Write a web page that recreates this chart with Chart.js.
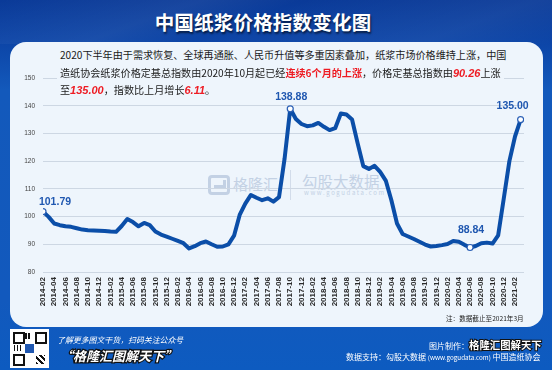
<!DOCTYPE html>
<html><head><meta charset="utf-8">
<script src="https://cdn.jsdelivr.net/npm/chart.js@4.4.1/dist/chart.umd.min.js"></script>
<style>
html,body{margin:0;padding:0;}
body{width:552px;height:370px;overflow:hidden;position:relative;font-family:"Noto Sans CJK SC","Noto Sans",sans-serif;
 background:linear-gradient(180deg,#0a3a98 0px,#0c44a6 40px,#1359bb 90px,#1259bd 300px,#0d5bc0 370px);}
#streak{position:absolute;left:0;top:0;width:552px;height:44px;
 background:linear-gradient(160deg,rgba(255,255,255,0) 0%,rgba(255,255,255,0.06) 30%,rgba(255,255,255,0) 45%,rgba(255,255,255,0.05) 80%,rgba(255,255,255,0) 100%);}
#title{position:absolute;left:0;width:526px;top:9px;text-align:center;color:#fff;font-weight:bold;font-size:19.5px;line-height:26px;letter-spacing:0.2px;text-shadow:1px 2px 2px rgba(0,0,0,0.6);}
#card{position:absolute;left:10px;top:42px;width:533px;height:285px;border-radius:16px;background:#eef5fc;}
#wm{position:absolute;left:0;top:0;width:552px;height:370px;}
.w{position:absolute;color:#c3d1e4;white-space:nowrap;}
#chart{position:absolute;left:0;top:0;}
.p{position:absolute;left:57px;white-space:nowrap;font-size:10.1px;color:#1b1b1b;line-height:16px;padding:0 3px;}
.bg{background:#eef5fc;}
.r{color:#ee1c24;font-weight:bold;}
.ri{color:#ee1c24;font-weight:bold;font-style:italic;font-family:"Liberation Sans","Noto Sans CJK SC",sans-serif;font-size:11px;}
#note{position:absolute;left:446px;top:313px;font-size:6.6px;color:#222;white-space:nowrap;}
#qr{position:absolute;left:10px;top:329px;width:39px;height:39px;background:#fff;}
.f{position:absolute;color:#fff;white-space:nowrap;}
</style></head>
<body>
<div id="streak"></div>
<div id="title">中国纸浆价格指数变化图</div>
<div id="card"></div>
<div id="wm">
  <div class="w" style="left:208px;top:175px;width:22px;height:20px;border:3px solid #c3d1e4;border-radius:4px;box-sizing:border-box;"></div>
  <div class="w" style="left:214px;top:180px;width:12px;height:8px;border:3px solid #c3d1e4;border-left:none;border-top:none;box-sizing:border-box;"></div>
  <div class="w" style="left:233px;top:174px;font-size:15px;line-height:20px;">格隆汇</div>
  <div class="w" style="left:290px;top:170px;width:1px;height:30px;background:#d2dcea;"></div>
  <div class="w" style="left:302px;top:171px;font-size:15.5px;line-height:20px;">勾股大数据</div>
  <div class="w" style="left:304px;top:189px;font-size:6px;letter-spacing:1.6px;line-height:8px;">www.gogudata.com</div>
</div>
<canvas id="chart" width="552" height="370"></canvas>
<div class="p bg" style="top:47px;">2020下半年由于需求恢复、全球再通胀、人民币升值等多重因素叠加，纸浆市场价格维持上涨，中国</div>
<div class="p bg" style="top:65px;">造纸协会纸浆价格定基总指数由2020年10月起已经<span class="r">连续6个月的上涨</span>，价格定基总指数由<span class="ri">90.26</span>上涨</div>
<div class="p" style="top:82px;">至<span class="ri">135.00</span>，指数比上月增长<span class="ri">6.11</span>。</div>
<div id="note">注：数据截止至2021年3月</div>
<div id="qr">
  <div style="position:absolute;left:3px;top:3px;width:8px;height:8px;border:2px solid #111;"></div>
  <div style="position:absolute;left:25px;top:3px;width:8px;height:8px;border:2px solid #111;"></div>
  <div style="position:absolute;left:3px;top:25px;width:8px;height:8px;border:2px solid #111;"></div>
  <div style="position:absolute;left:15px;top:15px;width:9px;height:9px;background:#1f57b0;"></div>
  <div style="position:absolute;left:15px;top:4px;width:6px;height:6px;background:repeating-linear-gradient(90deg,#111 0 2px,#fff 2px 3px);"></div>
  <div style="position:absolute;left:26px;top:26px;width:9px;height:9px;background:repeating-linear-gradient(45deg,#111 0 2px,#fff 2px 4px);"></div>
  <div style="position:absolute;left:4px;top:16px;width:8px;height:6px;background:repeating-linear-gradient(90deg,#111 0 1px,#fff 1px 3px);"></div>
</div>
<div class="f" style="left:57px;top:334px;font-size:7.9px;font-style:italic;">了解更多图文干货，扫码关注公众号</div>
<div class="f" style="left:60px;top:346px;font-size:13px;font-weight:bold;font-style:italic;-webkit-text-stroke:2.5px #111;paint-order:stroke fill;">“格隆汇图解天下”</div>
<div class="f" style="left:429px;top:337px;font-size:8px;">图片制作：<span style="font-size:10.4px;font-weight:bold;-webkit-text-stroke:2px #111;paint-order:stroke fill;">格隆汇图解天下</span></div>
<div class="f" style="left:346px;top:351px;font-size:8px;">数据支持：勾股大数据 <span style="font-size:6.3px;">(www.gogudata.com)</span> 中国造纸协会</div>
<script>
const months = ["2014-02","2014-03","2014-04","2014-05","2014-06","2014-07","2014-08","2014-09","2014-10","2014-11","2014-12",
"2015-01","2015-02","2015-03","2015-04","2015-05","2015-06","2015-07","2015-08","2015-09","2015-10","2015-11","2015-12",
"2016-01","2016-02","2016-03","2016-04","2016-05","2016-06","2016-07","2016-08","2016-09","2016-10","2016-11","2016-12",
"2017-01","2017-02","2017-03","2017-04","2017-05","2017-06","2017-07","2017-08","2017-09","2017-10","2017-11","2017-12",
"2018-01","2018-02","2018-03","2018-04","2018-05","2018-06","2018-07","2018-08","2018-09","2018-10","2018-11","2018-12",
"2019-01","2019-02","2019-03","2019-04","2019-05","2019-06","2019-07","2019-08","2019-09","2019-10","2019-11","2019-12",
"2020-01","2020-02","2020-03","2020-04","2020-05","2020-06","2020-07","2020-08","2020-09","2020-10","2020-11","2020-12",
"2021-01","2021-02","2021-03"];
const pulpIndex = [101.79,99.9,97.5,96.9,96.5,96.3,95.8,95.3,95.1,95.0,94.9,
94.8,94.6,94.5,96.6,99.1,98.0,96.5,97.7,96.9,94.6,93.5,92.8,
92.0,91.2,90.4,88.5,89.3,90.4,91.0,90.0,89.1,89.2,90.0,93.1,
100.6,104.7,107.8,106.8,105.9,106.6,105.4,107.0,121.0,138.88,135.2,133.4,
132.6,132.9,133.8,132.4,131.2,131.9,137.2,136.8,135.0,126.4,118.2,117.2,
118.3,116.1,113.0,105.9,97.5,93.7,92.8,91.9,90.9,89.9,89.2,89.4,
89.7,90.1,91.2,90.9,89.8,88.84,89.4,90.4,90.6,90.26,93.2,106.5,
120.0,128.89,135.00];
const markedIdx = [0,44,76,85];
const markedText = ["101.79","138.88","88.84","135.00"];
const yTicks = [80,90,100,110,120,130,140,150];

const BLUE = '#0b4ea8';
const labelPlugin = {
  id:'pointLabels',
  afterDatasetsDraw(chart){
    const ctx = chart.ctx, meta = chart.getDatasetMeta(0);
    const offs = [[12,-10],[1,-12],[1,-17],[-8,-13]];
    ctx.save();
    ctx.font = 'bold 10.5px "Liberation Sans", sans-serif';
    ctx.fillStyle = '#1f57b0';
    ctx.textAlign = 'center';
    ctx.textBaseline = 'middle';
    markedIdx.forEach((idx,k)=>{
      const el = meta.data[idx];
      ctx.fillText(markedText[k], el.x + offs[k][0], el.y + offs[k][1]);
    });
    ctx.restore();
  }
};

new Chart(document.getElementById('chart'), {
  type:'line',
  data:{datasets:[{
    data: pulpIndex.map((v,i)=>({x:i,y:v})),
    borderColor:BLUE, borderWidth:4, tension:0, fill:false,
    borderJoinStyle:'round', borderCapStyle:'round',
    pointRadius: c => markedIdx.includes(c.dataIndex) ? 3 : 0,
    pointHoverRadius:0,
    pointBackgroundColor:'#ffffff', pointBorderColor:'#2a5fb5', pointBorderWidth:1.2
  }]},
  options:{
    responsive:false, animation:false, devicePixelRatio:1,
    layout:{padding:{left:0,right:28,top:78,bottom:58}},
    plugins:{legend:{display:false},tooltip:{enabled:false}},
    scales:{
      x:{type:'linear', min:0, max:85.6,
        afterBuildTicks: s => { s.ticks = months.map((m,i)=>({value:i})).filter(t=>t.value%2===0); },
        afterFit: s => { s.height = 40; },
        grid:{display:false, drawTicks:false}, border:{display:false},
        ticks:{autoSkip:false, maxRotation:90, minRotation:90, padding:5, color:'#2a2a2a',
          font:{family:'"Liberation Sans", sans-serif', size:8, weight:'bold'},
          callback: v => months[v] }
      },
      y:{min:80, max:150,
        afterBuildTicks: s => { s.ticks = yTicks.map(v=>({value:v})); },
        afterFit: s => { s.width = 43; },
        grid:{color:'#cdd7e3', lineWidth:1, drawTicks:false}, border:{display:false},
        ticks:{padding:8, color:'#444', font:{family:'"Liberation Sans", sans-serif', size:6.5}}
      }
    }
  },
  plugins:[labelPlugin]
});
</script>
</body></html>
